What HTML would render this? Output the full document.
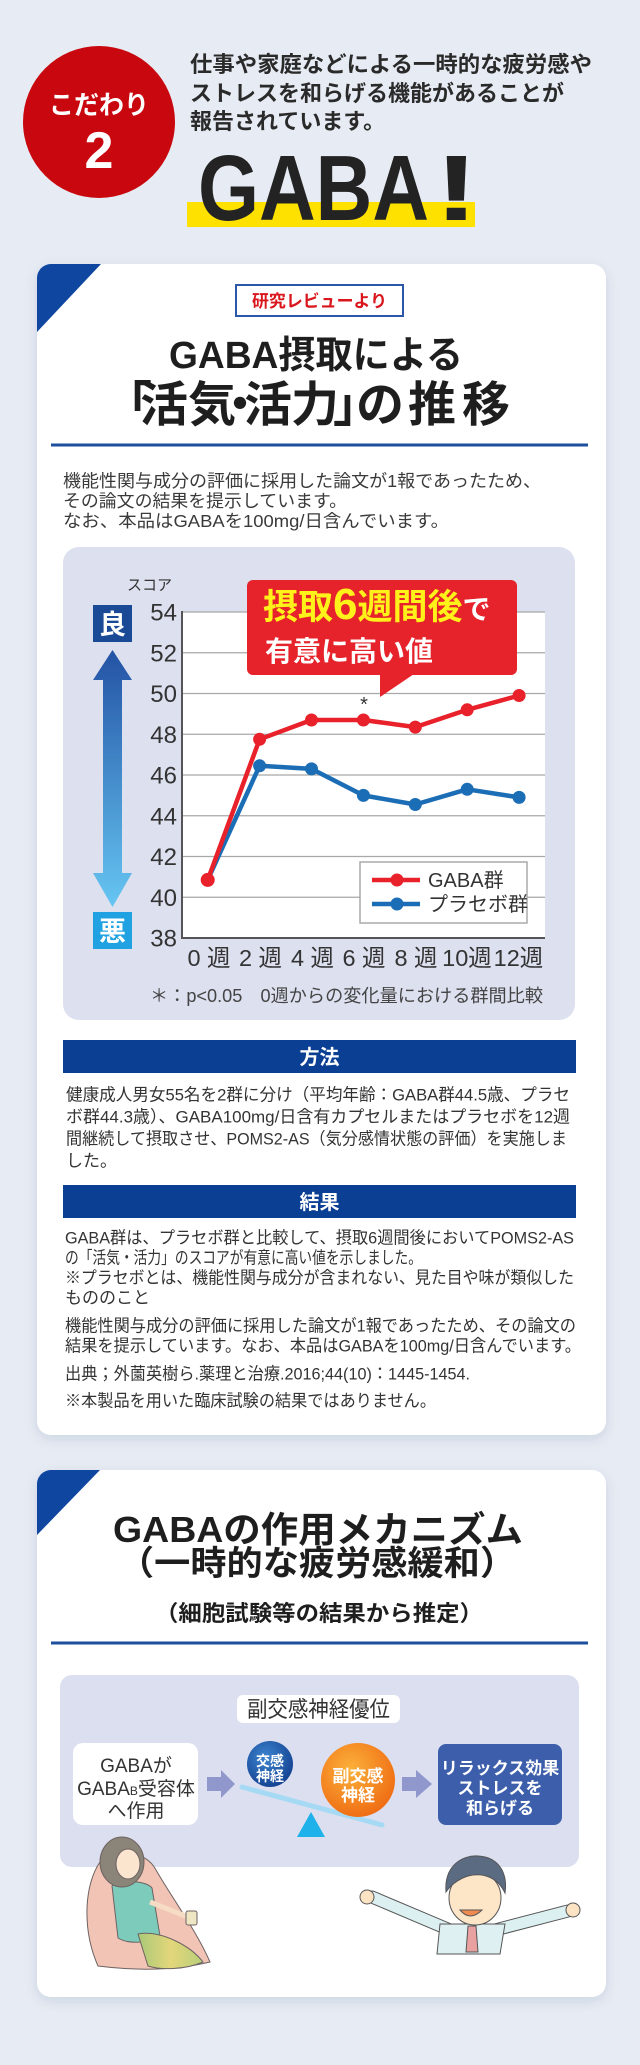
<!DOCTYPE html>
<html><head><meta charset="utf-8">
<style>
html,body{margin:0;padding:0;background:#e7ecf4;}
body{width:640px;height:2065px;overflow:hidden;}
svg{display:block;}
text{font-family:"Liberation Sans","Noto Sans CJK JP",sans-serif;}
.b{font-weight:bold;}
</style></head><body>
<svg width="640" height="2065" viewBox="0 0 640 2065" xmlns="http://www.w3.org/2000/svg">
<defs>
 <filter id="sh" x="-10%" y="-10%" width="120%" height="120%"><feDropShadow dx="0" dy="4" stdDeviation="6" flood-color="#22335a" flood-opacity="0.12"/></filter>
 <clipPath id="c1"><rect x="37" y="264" width="569" height="1171" rx="14"/></clipPath>
 <clipPath id="c2"><rect x="37" y="1470" width="569" height="527" rx="14"/></clipPath>
 <linearGradient id="arr" x1="0" y1="0" x2="0" y2="1"><stop offset="0" stop-color="#2352a4"/><stop offset="1" stop-color="#66c6f2"/></linearGradient>
 <radialGradient id="bl" cx="0.4" cy="0.35" r="0.7"><stop offset="0" stop-color="#3d85d0"/><stop offset="1" stop-color="#12408f"/></radialGradient>
 <radialGradient id="or" cx="0.4" cy="0.35" r="0.7"><stop offset="0" stop-color="#fbb13a"/><stop offset="1" stop-color="#ef6a12"/></radialGradient>
 <linearGradient id="skirt" x1="0" y1="0" x2="1" y2="0"><stop offset="0" stop-color="#a9c978"/><stop offset="0.5" stop-color="#e3d67a"/><stop offset="1" stop-color="#b9cf7a"/></linearGradient>
</defs>
<rect width="640" height="2065" fill="#e7ecf4"/>

<!-- ===== Header ===== -->
<circle cx="99" cy="122" r="76" fill="#c8070e"/>
<text x="99" y="114" font-size="26" class="b" fill="#fff" text-anchor="middle" textLength="100" lengthAdjust="spacingAndGlyphs">こだわり</text>
<text x="99" y="168" font-size="52" class="b" fill="#fff" text-anchor="middle">2</text>

<text x="190" y="72" font-size="22" class="b" fill="#2a2a2a" textLength="402" lengthAdjust="spacingAndGlyphs">仕事や家庭などによる一時的な疲労感や</text>
<text x="190" y="101" font-size="22" class="b" fill="#2a2a2a">ストレスを和らげる機能があることが</text>
<text x="190" y="129" font-size="22" class="b" fill="#2a2a2a">報告されています。</text>

<rect x="187" y="202" width="288" height="25" fill="#ffe100"/>
<text x="198" y="220" font-size="93" class="b" fill="#232323" textLength="231" lengthAdjust="spacingAndGlyphs">GABA</text>
<text transform="translate(434,220) scale(1.45,1)" x="0" y="0" font-size="93" class="b" fill="#232323">!</text>

<!-- ===== Card 1 ===== -->
<rect x="37" y="264" width="569" height="1171" rx="14" fill="#fff" filter="url(#sh)"/>
<g clip-path="url(#c1)"><polygon points="37,264 101,264 37,332" fill="#0f46a0"/></g>

<rect x="236" y="285" width="167" height="31" fill="#fff" stroke="#2a57a8" stroke-width="2"/>
<text x="319.5" y="307" font-size="17" class="b" fill="#d9161c" text-anchor="middle" textLength="135" lengthAdjust="spacingAndGlyphs">研究レビューより</text>

<text x="316" y="368" font-size="38" class="b" fill="#1e1e1e" text-anchor="middle" textLength="294" lengthAdjust="spacingAndGlyphs">GABA摂取による</text>
<text x="104 140 188 216 244 291 333 356 408 462" y="421" font-size="48" class="b" fill="#1e1e1e">「活気・活力」の推移</text>
<rect x="51" y="443.5" width="537" height="3" fill="#1d4f9e"/>

<text x="63" y="487" font-size="17.5" fill="#3a3a3a" textLength="478" lengthAdjust="spacingAndGlyphs">機能性関与成分の評価に採用した論文が1報であったため、</text>
<text x="63" y="507" font-size="17.5" fill="#3a3a3a" textLength="284" lengthAdjust="spacingAndGlyphs">その論文の結果を提示しています。</text>
<text x="63" y="527" font-size="17.5" fill="#3a3a3a" textLength="386" lengthAdjust="spacingAndGlyphs">なお、本品はGABAを100mg/日含んでいます。</text>

<!-- chart panel -->
<rect x="63" y="547" width="512" height="473" rx="16" fill="#dce0ef"/>
<rect x="182" y="612" width="363" height="326" fill="#fff"/>
<g stroke="#a8a8a8" stroke-width="1.2">
 <line x1="182" y1="612" x2="545" y2="612"/>
 <line x1="182" y1="652.75" x2="545" y2="652.75"/>
 <line x1="182" y1="693.5" x2="545" y2="693.5"/>
 <line x1="182" y1="734.25" x2="545" y2="734.25"/>
 <line x1="182" y1="775" x2="545" y2="775"/>
 <line x1="182" y1="815.75" x2="545" y2="815.75"/>
 <line x1="182" y1="856.5" x2="545" y2="856.5"/>
 <line x1="182" y1="897.25" x2="545" y2="897.25"/>
</g>
<line x1="182" y1="611" x2="182" y2="939" stroke="#555" stroke-width="2"/>
<line x1="181" y1="938" x2="545" y2="938" stroke="#555" stroke-width="2"/>

<g font-size="24" fill="#333" text-anchor="end">
 <text x="177" y="620.5">54</text>
 <text x="177" y="661.3">52</text>
 <text x="177" y="702">50</text>
 <text x="177" y="742.8">48</text>
 <text x="177" y="783.5">46</text>
 <text x="177" y="824.3">44</text>
 <text x="177" y="865">42</text>
 <text x="177" y="905.8">40</text>
 <text x="177" y="946.5">38</text>
</g>
<g font-size="23.5" fill="#333" text-anchor="middle">
 <text x="209" y="966">0 週</text>
 <text x="260.5" y="966">2 週</text>
 <text x="312.5" y="966">4 週</text>
 <text x="364" y="966">6 週</text>
 <text x="416" y="966">8 週</text>
 <text x="467" y="966">10週</text>
 <text x="518.5" y="966">12週</text>
</g>
<text x="149.5" y="590" font-size="15" fill="#333" text-anchor="middle">スコア</text>

<rect x="93" y="605" width="39" height="37" fill="#1a4a96"/>
<text x="112.5" y="634" font-size="27" class="b" fill="#fff" text-anchor="middle">良</text>
<polygon points="112.5,650 132,680 122,680 122,873 132,873 112.5,907 93,873 103,873 103,680 93,680" fill="url(#arr)"/>
<rect x="93" y="912" width="39" height="37" fill="#20a2e2"/>
<text x="112.5" y="941" font-size="27" class="b" fill="#fff" text-anchor="middle">悪</text>

<!-- series -->
<polyline points="207.7,879.9 259.6,765.8 311.5,768.9 363.4,795.4 415.3,804.5 467.2,789.3 519.1,797.4" fill="none" stroke="#1b6db5" stroke-width="4.5" stroke-linejoin="round"/>
<g fill="#1b6db5">
 <circle cx="259.6" cy="765.8" r="6.5"/><circle cx="311.5" cy="768.9" r="6.5"/><circle cx="363.4" cy="795.4" r="6.5"/>
 <circle cx="415.3" cy="804.5" r="6.5"/><circle cx="467.2" cy="789.3" r="6.5"/><circle cx="519.1" cy="797.4" r="6.5"/>
</g>
<polyline points="207.7,879.9 259.6,739.3 311.5,720 363.4,720 415.3,727.1 467.2,709.8 519.1,695.5" fill="none" stroke="#e8212a" stroke-width="4.5" stroke-linejoin="round"/>
<g fill="#e8212a">
 <circle cx="207.7" cy="879.9" r="7"/><circle cx="259.6" cy="739.3" r="6.5"/><circle cx="311.5" cy="720" r="6.5"/>
 <circle cx="363.4" cy="720" r="6.5"/><circle cx="415.3" cy="727.1" r="6.5"/><circle cx="467.2" cy="709.8" r="6.5"/>
 <circle cx="519.1" cy="695.5" r="6.5"/>
</g>
<text x="364" y="711" font-size="20" fill="#333" text-anchor="middle">*</text>

<!-- callout -->
<rect x="247" y="580" width="270" height="95" rx="6" fill="#e6222a"/>
<polygon points="380,674 414,674 380,697" fill="#e6222a"/>
<text x="263" y="619" class="b"><tspan fill="#fff21a" font-size="35">摂取</tspan><tspan fill="#fff21a" font-size="44">6</tspan><tspan fill="#fff21a" font-size="35">週間後</tspan><tspan fill="#fff" font-size="28">で</tspan></text>
<text x="265" y="661" font-size="28" class="b" fill="#fff">有意に高い値</text>

<!-- legend -->
<rect x="360" y="862" width="167" height="61" fill="#fff" stroke="#aaa" stroke-width="1.5"/>
<line x1="372" y1="880" x2="420" y2="880" stroke="#e8212a" stroke-width="4.5"/>
<circle cx="397" cy="880" r="6.5" fill="#e8212a"/>
<line x1="372" y1="904" x2="420" y2="904" stroke="#1b6db5" stroke-width="4.5"/>
<circle cx="397" cy="904" r="6.5" fill="#1b6db5"/>
<text x="428" y="887" font-size="20" fill="#333">GABA群</text>
<text x="428" y="911" font-size="20" fill="#333">プラセボ群</text>

<text x="150" y="1002" font-size="18" fill="#444" textLength="393" lengthAdjust="spacingAndGlyphs">＊：p&lt;0.05　0週からの変化量における群間比較</text>

<!-- method -->
<rect x="63" y="1040" width="513" height="33" fill="#0b3f93"/>
<text x="319.5" y="1064" font-size="20" class="b" fill="#fff" text-anchor="middle">方法</text>
<g font-size="17" fill="#333">
 <text x="66" y="1100.5" textLength="504" lengthAdjust="spacingAndGlyphs">健康成人男女55名を2群に分け（平均年齢：GABA群44.5歳、プラセ</text>
 <text x="66" y="1122.5" textLength="504" lengthAdjust="spacingAndGlyphs">ボ群44.3歳）、GABA100mg/日含有カプセルまたはプラセボを12週</text>
 <text x="66" y="1144.5" textLength="501" lengthAdjust="spacingAndGlyphs">間継続して摂取させ、POMS2-AS（気分感情状態の評価）を実施しま</text>
 <text x="66" y="1166.5">した。</text>
</g>

<!-- result -->
<rect x="63" y="1185" width="513" height="33" fill="#0b3f93"/>
<text x="319.5" y="1209" font-size="20" class="b" fill="#fff" text-anchor="middle">結果</text>
<g font-size="17" fill="#333">
 <text x="65" y="1243.5" textLength="509" lengthAdjust="spacingAndGlyphs">GABA群は、プラセボ群と比較して、摂取6週間後においてPOMS2-AS</text>
 <text x="65" y="1263.5" textLength="357" lengthAdjust="spacingAndGlyphs">の「活気・活力」のスコアが有意に高い値を示しました。</text>
 <text x="65" y="1283.5" textLength="509" lengthAdjust="spacingAndGlyphs">※プラセボとは、機能性関与成分が含まれない、見た目や味が類似した</text>
 <text x="65" y="1303.5">もののこと</text>
 <text x="65" y="1331.5" textLength="511" lengthAdjust="spacingAndGlyphs">機能性関与成分の評価に採用した論文が1報であったため、その論文の</text>
 <text x="65" y="1351.5" textLength="516" lengthAdjust="spacingAndGlyphs">結果を提示しています。なお、本品はGABAを100mg/日含んでいます。</text>
 <text x="65" y="1379.5" textLength="405" lengthAdjust="spacingAndGlyphs">出典；外薗英樹ら.薬理と治療.2016;44(10)：1445-1454.</text>
 <text x="65" y="1406.5" textLength="371" lengthAdjust="spacingAndGlyphs">※本製品を用いた臨床試験の結果ではありません。</text>
</g>

<!-- ===== Card 2 ===== -->
<rect x="37" y="1470" width="569" height="527" rx="14" fill="#fff" filter="url(#sh)"/>
<g clip-path="url(#c2)"><polygon points="37,1470 100,1470 37,1535" fill="#0f46a0"/></g>

<text x="318" y="1542" font-size="36" class="b" fill="#1e1e1e" text-anchor="middle" textLength="410" lengthAdjust="spacingAndGlyphs">GABAの作用メカニズム</text>
<text x="118" y="1575" font-size="34" class="b" fill="#1e1e1e" textLength="398" lengthAdjust="spacingAndGlyphs">（一時的な疲労感緩和）</text>
<text x="155" y="1621" font-size="22" class="b" fill="#1e1e1e" textLength="328" lengthAdjust="spacingAndGlyphs">（細胞試験等の結果から推定）</text>
<rect x="51" y="1641.5" width="537" height="3" fill="#1d4f9e"/>

<!-- diagram -->
<rect x="60" y="1675" width="519" height="192" rx="12" fill="#dcdff0"/>
<rect x="237" y="1695" width="163" height="28" rx="6" fill="#fff"/>
<text x="318.5" y="1717" font-size="22" fill="#333" text-anchor="middle" textLength="143" lengthAdjust="spacingAndGlyphs">副交感神経優位</text>

<rect x="73" y="1743" width="125" height="82" rx="10" fill="#fff"/>
<g font-size="19" fill="#333" text-anchor="middle">
 <text x="136" y="1772">GABAが</text>
 <text x="136" y="1795">GABA<tspan font-size="12">B</tspan>受容体</text>
 <text x="136" y="1817">へ作用</text>
</g>

<polygon points="207,1777 221,1777 221,1770 235,1784 221,1798 221,1791 207,1791" fill="#8f97cc"/>
<polygon points="402,1777 416,1777 416,1770 432,1784 416,1798 416,1791 402,1791" fill="#8f97cc"/>

<line x1="242" y1="1787" x2="382" y2="1825" stroke="#a6daf4" stroke-width="5" stroke-linecap="round"/>
<polygon points="311,1812 297,1837 325,1837" fill="#1fb1ea"/>
<circle cx="270" cy="1764" r="23" fill="url(#bl)"/>
<text x="270" y="1766" font-size="14" class="b" fill="#fff" text-anchor="middle">交感</text>
<text x="270" y="1781" font-size="14" class="b" fill="#fff" text-anchor="middle">神経</text>
<circle cx="358" cy="1780" r="37" fill="url(#or)"/>
<text x="358" y="1782" font-size="17" class="b" fill="#fff" text-anchor="middle">副交感</text>
<text x="358" y="1801" font-size="17" class="b" fill="#fff" text-anchor="middle">神経</text>

<rect x="438" y="1744" width="124" height="81" rx="8" fill="#3c5eab"/>
<g font-size="17" class="b" fill="#fff" text-anchor="middle">
 <text x="500" y="1774">リラックス効果</text>
 <text x="500" y="1794">ストレスを</text>
 <text x="500" y="1814">和らげる</text>
</g>

<!-- woman illustration -->
<g stroke="#6d6262" stroke-width="1">
 <path d="M98,1966 C82,1930 84,1885 100,1862 C112,1846 146,1850 156,1870 C172,1898 196,1930 210,1962 Q160,1974 98,1966 Z" fill="#f2c4b6"/>
 <path d="M112,1886 C120,1880 146,1880 152,1888 L160,1936 C146,1944 128,1944 118,1938 Z" fill="#7ccbbb"/>
 <path d="M150,1902 L188,1917" stroke="#f6dcc4" stroke-width="5" fill="none"/>
 <rect x="186" y="1911" width="11" height="14" rx="2" fill="#efe6c4"/>
 <path d="M138,1934 C160,1930 190,1945 203,1962 C185,1970 160,1970 148,1966 Z" fill="url(#skirt)"/>
 <ellipse cx="122" cy="1862" rx="22" ry="25" fill="#8b8478"/>
 <ellipse cx="128" cy="1864" rx="12" ry="15" fill="#fbe5cf"/>
</g>

<!-- man illustration -->
<g stroke="#555" stroke-width="1">
 <path d="M450,1930 L372,1897" stroke="#555" stroke-width="13" stroke-linecap="round"/>
 <path d="M450,1930 L372,1897" stroke="#dcf0f2" stroke-width="11" stroke-linecap="round"/>
 <path d="M495,1930 L568,1911" stroke="#555" stroke-width="13" stroke-linecap="round"/>
 <path d="M495,1930 L568,1911" stroke="#dcf0f2" stroke-width="11" stroke-linecap="round"/>
 <path d="M440,1924 L505,1924 L500,1954 L437,1954 Z" fill="#dff0f2"/>
 <polygon points="468,1926 476,1926 478,1952 466,1952" fill="#e8a0a0"/>
 <circle cx="367" cy="1897" r="7" fill="#fbe3c4"/>
 <circle cx="573" cy="1910" r="7" fill="#fbe3c4"/>
 <ellipse cx="475" cy="1898" rx="26" ry="27" fill="#fde6c8"/>
 <path d="M446,1892 C444,1866 462,1855 478,1856 C498,1857 508,1872 505,1893 C498,1878 484,1872 468,1876 C458,1879 450,1886 446,1892 Z" fill="#5b6b82"/>
 <path d="M460,1910 Q470,1922 482,1910 Z" fill="#f08a50"/>
</g>
</svg>
</body></html>
